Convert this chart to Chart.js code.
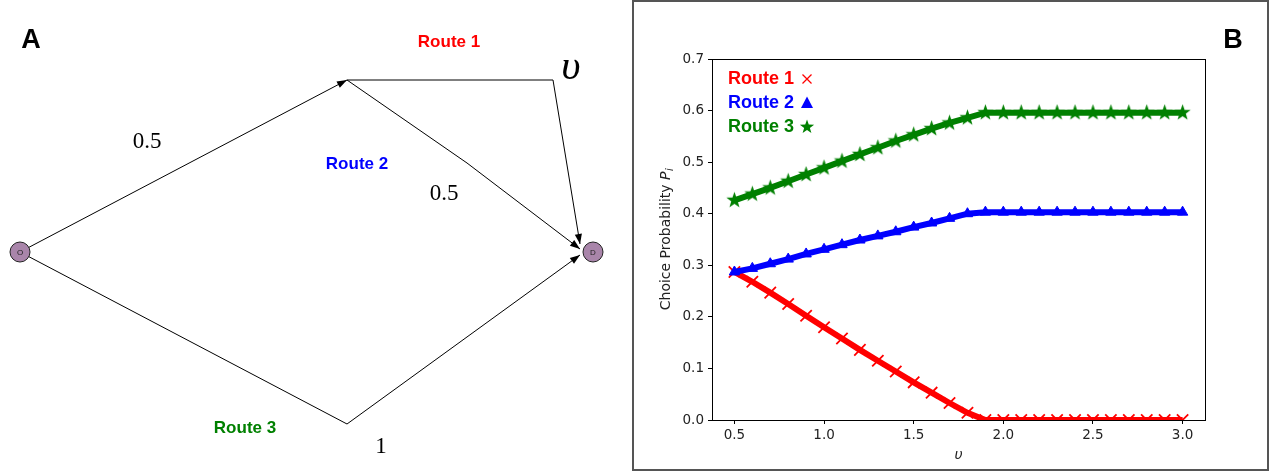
<!DOCTYPE html>
<html><head><meta charset="utf-8">
<script src="https://cdn.jsdelivr.net/npm/chart.js@4.4.0/dist/chart.umd.min.js"></script>
<style>
html,body{margin:0;padding:0;background:#fff;width:1279px;height:475px;overflow:hidden;}
#a{position:absolute;left:0;top:0;}
#frameB{position:absolute;left:632px;top:0;width:637px;height:471px;box-sizing:border-box;border:2px solid #555;}
#b{position:absolute;left:634px;top:2px;}
</style></head><body>
<canvas id="a" width="630" height="475"></canvas>
<div id="frameB"></div>
<canvas id="b" width="633" height="467"></canvas>
<script>
// ---------------- Panel B data ----------------
const nu = [0.5,0.6,0.7,0.8,0.9,1.0,1.1,1.2,1.3,1.4,1.5,1.6,1.7,1.8,1.9,2.0,2.1,2.2,2.3,2.4,2.5,2.6,2.7,2.8,2.9,3.0];
const route1 = [0.287,0.268,0.247,0.225,0.202,0.180,0.158,0.136,0.115,0.094,0.073,0.053,0.033,0.014,0,0,0,0,0,0,0,0,0,0,0,0];
const route2 = [0.287,0.294,0.303,0.312,0.322,0.331,0.340,0.349,0.357,0.365,0.374,0.382,0.391,0.400,0.403,0.403,0.403,0.403,0.403,0.403,0.403,0.403,0.403,0.403,0.403,0.403];
const route3 = [0.426,0.438,0.450,0.463,0.476,0.489,0.502,0.515,0.528,0.541,0.553,0.565,0.576,0.586,0.596,0.596,0.596,0.596,0.596,0.596,0.596,0.596,0.596,0.596,0.596,0.596];
const xTicks = [0.5,1.0,1.5,2.0,2.5,3.0];
const yTicks = [0.0,0.1,0.2,0.3,0.4,0.5,0.6,0.7];
const seriesNames = ['Route 1','Route 2','Route 3'];
const seriesColors = ['#ff0000','#0000ff','#008000'];
const xTitle = 'υ';
const yTitleMain = 'Choice Probability ';
const yTitleVar = 'P';
const yTitleSub = 'i';

// ---------------- Panel A data (diagram layout units) ----------------
const nodeNames = ['O','D'];
const nodeX = [20, 593];
const nodeY = [252, 252];
const linkToJunction = [[20,252],[347,80]];
const linkRoute1 = [[347,80],[553,80],[580,244]];
const linkRoute2 = [[347,80],[467,163],[580,249]];
const linkRoute3 = [[20,252],[347,424],[580,255]];
const diagramTexts = ['A','Route 1','Route 2','Route 3','0.5','0.5','1','υ'];
const diagramTextX = [31,449,357,245,147,444,381,571];
const diagramTextY = [48,47,169,433,148,200,453,79];

// ---------------- styles ----------------
const SANS = "'Liberation Sans', Arial, sans-serif";
const SERIF = "'Liberation Serif', 'Times New Roman', serif";
const DJ = "'DejaVu Sans', sans-serif";
const diagramFonts = ['bold 27px '+SANS,'bold 17px '+SANS,'bold 17px '+SANS,'bold 17px '+SANS,'23px '+SERIF,'23px '+SERIF,'23px '+SERIF,'italic 42px '+SERIF];
const diagramColors = ['#000','#ff0000','#0000ff','#008000','#000','#000','#000','#000'];

function starPath(g, cx, cy, R) {
  g.beginPath();
  for (let k = 0; k < 10; k++) {
    const r = k % 2 ? R * 0.4 : R;
    const a = -Math.PI / 2 + k * Math.PI / 5;
    g.lineTo(cx + r * Math.cos(a), cy + r * Math.sin(a));
  }
  g.closePath();
}
function makeStar(color, R) {
  const s = Math.ceil(2 * R + 2);
  const c = document.createElement('canvas');
  c.width = s; c.height = s;
  const g = c.getContext('2d');
  starPath(g, s / 2, s / 2, R);
  g.fillStyle = color; g.fill();
  return c;
}
const starImg = makeStar(seriesColors[2], 8.5);

// ---------------- Panel A ----------------
const toPts = arr => arr.map(p => ({x: p[0], y: p[1]}));
const arrowPlugin = {
  id: 'arrows',
  afterDatasetsDraw(chart) {
    const ctx = chart.ctx;
    chart.data.datasets.forEach((ds, i) => {
      if (!ds.arrow) return;
      const pts = chart.getDatasetMeta(i).data;
      const a = pts[pts.length - 2], b = pts[pts.length - 1];
      const ang = Math.atan2(b.y - a.y, b.x - a.x);
      const L = 10, W = 3.6;
      ctx.save();
      ctx.translate(b.x, b.y); ctx.rotate(ang);
      ctx.beginPath(); ctx.moveTo(0, 0); ctx.lineTo(-L, -W); ctx.lineTo(-L, W); ctx.closePath();
      ctx.fillStyle = '#000'; ctx.fill();
      ctx.restore();
    });
    const xs = chart.scales.x, ys = chart.scales.y;
    ctx.save();
    ctx.font = '8px ' + SANS; ctx.fillStyle = '#222'; ctx.textAlign = 'center'; ctx.textBaseline = 'middle';
    nodeNames.forEach((n, i) => ctx.fillText(n, xs.getPixelForValue(nodeX[i]), ys.getPixelForValue(nodeY[i]) + 0.5));
    ctx.textBaseline = 'alphabetic'; ctx.textAlign = 'center';
    diagramTexts.forEach((t, i) => {
      ctx.font = diagramFonts[i]; ctx.fillStyle = diagramColors[i];
      ctx.fillText(t, xs.getPixelForValue(diagramTextX[i]), ys.getPixelForValue(diagramTextY[i]));
    });
    ctx.restore();
  }
};
const linkDs = arr => ({data: toPts(arr), showLine: true, borderColor: '#000', borderWidth: 1, pointRadius: 0, arrow: true, order: 2, clip: false});
new Chart(document.getElementById('a'), {
  type: 'scatter',
  data: {datasets: [
    linkDs(linkToJunction), linkDs(linkRoute1), linkDs(linkRoute2), linkDs(linkRoute3),
    {data: nodeX.map((x, i) => ({x, y: nodeY[i]})), showLine: false, pointRadius: 10, pointBackgroundColor: '#a985aa', pointBorderColor: '#222', pointBorderWidth: 1, order: 1, clip: false}
  ]},
  options: {
    responsive: false, animation: false, events: [],
    layout: {padding: 0, autoPadding: false},
    plugins: {legend: {display: false}, tooltip: {enabled: false}},
    scales: {
      x: {type: 'linear', display: false, min: 0, max: 630},
      y: {type: 'linear', display: false, min: 0, max: 475, reverse: true}
    }
  },
  plugins: [arrowPlugin]
});

// ---------------- Panel B ----------------
const framePlugin = {
  id: 'frame',
  afterDatasetsDraw(chart) {
    const {left, top, right, bottom} = chart.chartArea;
    const ctx = chart.ctx;
    ctx.save();
    ctx.strokeStyle = '#000'; ctx.lineWidth = 1;
    ctx.strokeRect(Math.round(left) + 0.5, Math.round(top) + 0.5, Math.round(right - left), Math.round(bottom - top));
    ctx.restore();
  },
  afterDraw(chart) {
    const ctx = chart.ctx;
    const {left, top, right, bottom} = chart.chartArea;
    ctx.save();
    ctx.font = 'italic 14px ' + DJ; ctx.fillStyle = '#222'; ctx.textAlign = 'center'; ctx.textBaseline = 'middle';
    ctx.fillText(xTitle, (left + right) / 2, 453);
    ctx.translate(31, (top + bottom) / 2);
    ctx.rotate(-Math.PI / 2);
    const fMain = '14px ' + DJ, fVar = 'italic 14px ' + DJ, fSub = 'italic 10px ' + DJ;
    ctx.font = fMain; const w1 = ctx.measureText(yTitleMain).width;
    ctx.font = fVar; const w2 = ctx.measureText(yTitleVar).width;
    ctx.font = fSub; const w3 = ctx.measureText(yTitleSub).width;
    let x0 = -(w1 + w2 + w3) / 2;
    ctx.textAlign = 'left'; ctx.textBaseline = 'alphabetic';
    ctx.font = fMain; ctx.fillText(yTitleMain, x0, 5);
    ctx.font = fVar; ctx.fillText(yTitleVar, x0 + w1, 5);
    ctx.font = fSub; ctx.fillText(yTitleSub, x0 + w1 + w2 + 0.5, 8);
    ctx.restore();

    ctx.save();
    ctx.font = 'bold 18px ' + SANS; ctx.textBaseline = 'middle'; ctx.textAlign = 'left';
    seriesNames.forEach((n, i) => {
      const tx = left + 16, ty = top + 20 + i * 24;
      ctx.fillStyle = seriesColors[i];
      ctx.fillText(n, tx, ty);
      const mx = tx + ctx.measureText(n).width + 13, my = ty;
      if (i === 0) {
        ctx.strokeStyle = seriesColors[i]; ctx.lineWidth = 1.3;
        ctx.beginPath(); ctx.moveTo(mx - 4.5, my - 4.5); ctx.lineTo(mx + 4.5, my + 4.5);
        ctx.moveTo(mx + 4.5, my - 4.5); ctx.lineTo(mx - 4.5, my + 4.5); ctx.stroke();
      } else if (i === 1) {
        ctx.beginPath(); ctx.moveTo(mx, my - 6.5); ctx.lineTo(mx + 6, my + 5); ctx.lineTo(mx - 6, my + 5); ctx.closePath(); ctx.fill();
      } else {
        starPath(ctx, mx, my, 7.5); ctx.fill();
      }
    });
    ctx.fillStyle = '#000'; ctx.font = 'bold 27px ' + SANS; ctx.textAlign = 'center'; ctx.textBaseline = 'alphabetic';
    ctx.fillText('B', 599, 46);
    ctx.restore();
  }
};

const tickFont = {family: 'DejaVu Sans', size: 13.5};
const gridOpts = {display: true, drawOnChartArea: false, tickLength: 4, color: '#000', tickColor: '#000', lineWidth: 1};
const mk = (i, vals, extra) => Object.assign({
  label: seriesNames[i], data: nu.map((x, k) => ({x, y: vals[k]})),
  borderColor: seriesColors[i], backgroundColor: seriesColors[i], borderWidth: 6, tension: 0, fill: false, clip: 0,
  pointBorderColor: seriesColors[i], pointBackgroundColor: seriesColors[i]
}, extra);

new Chart(document.getElementById('b'), {
  type: 'line',
  data: {datasets: [
    mk(0, route1, {pointStyle: 'crossRot', pointRadius: 8, pointBorderWidth: 1.8, order: 3}),
    mk(1, route2, {pointStyle: 'triangle', pointRadius: 6, pointBorderWidth: 1, order: 2}),
    mk(2, route3, {pointStyle: starImg, pointRadius: 8, pointBorderWidth: 0, order: 1})
  ]},
  options: {
    responsive: false, animation: false, events: [],
    layout: {padding: {left: 0, top: 57, right: 62, bottom: 0}, autoPadding: false},
    plugins: {legend: {display: false}, tooltip: {enabled: false}},
    scales: {
      x: {
        type: 'linear', min: 0.375, max: 3.125,
        afterBuildTicks: s => { s.ticks = xTicks.map(v => ({value: v})); },
        afterFit: s => { s.height = 49; },
        grid: gridOpts, border: {display: false},
        ticks: {callback: v => v.toFixed(1), font: tickFont, color: '#222', padding: 3, maxRotation: 0, autoSkip: false}
      },
      y: {
        type: 'linear', min: 0, max: 0.7,
        afterBuildTicks: s => { s.ticks = yTicks.map(v => ({value: v})); },
        afterFit: s => { s.width = 78; },
        grid: gridOpts, border: {display: false},
        ticks: {callback: v => v.toFixed(1), font: tickFont, color: '#222', padding: 4, autoSkip: false}
      }
    }
  },
  plugins: [framePlugin]
});
</script>
</body></html>
